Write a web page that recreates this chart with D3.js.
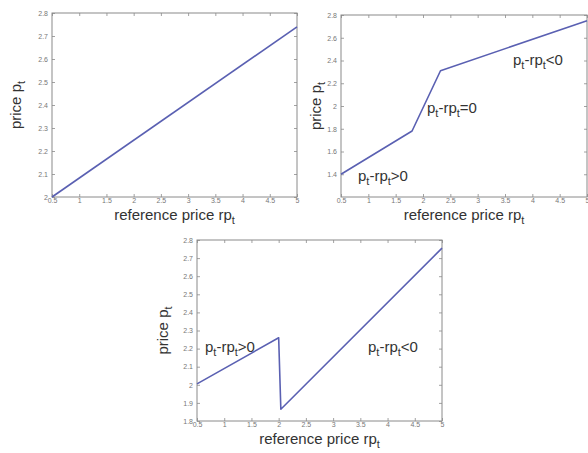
<!DOCTYPE html>
<html>
<head>
<meta charset="utf-8">
<script src="https://cdn.jsdelivr.net/npm/d3@7"></script>
<style>
  html, body { margin: 0; padding: 0; background: #fff; }
  svg { display: block; }
</style>
</head>
<body>
<svg id="chart" width="588" height="453"></svg>
<script>
// Reference price rp_t shared by all three panels
const xTicks = [0.5, 1, 1.5, 2, 2.5, 3, 3.5, 4, 4.5, 5];

// Panel A: linear response
const rpA = [0.5, 5];
const pA = [2.0, 2.74];
const yTicksA = [2, 2.1, 2.2, 2.3, 2.4, 2.5, 2.6, 2.7, 2.8];

// Panel B: piecewise linear response with three regimes
const rpB = [0.5, 1.8, 2.32, 5];
const pB = [1.4, 1.78, 2.31, 2.75];
const yTicksB = [1.4, 1.6, 1.8, 2, 2.2, 2.4, 2.6, 2.8];

// Panel C: response with a downward jump
const rpC = [0.5, 2.0, 2.04, 5];
const pC = [2.005, 2.26, 1.865, 2.755];
const yTicksC = [1.8, 1.9, 2, 2.1, 2.2, 2.3, 2.4, 2.5, 2.6, 2.7, 2.8];

const svg = d3.select("#chart");
const FONT = "'Liberation Sans', Arial, sans-serif";
const LINE = "#5a60b2";
const AXIS = "#8a8a8a";

const panels = [
  { box: [52, 13, 297, 197], yDom: [2.0, 2.8], yTicks: yTicksA, rp: rpA, p: pA,
    yLabelX: 21, xLabelY: 220, notes: [] },
  { box: [341, 15, 587, 197], yDom: [1.2, 2.8], yTicks: yTicksB, rp: rpB, p: pB,
    yLabelX: 321, xLabelY: 220,
    notes: [{ x: 358, y: 181, rel: ">0" }, { x: 427, y: 113, rel: "=0" }, { x: 513, y: 65, rel: "<0" }] },
  { box: [197, 240, 442, 421], yDom: [1.8, 2.8], yTicks: yTicksC, rp: rpC, p: pC,
    yLabelX: 168, xLabelY: 444,
    notes: [{ x: 205, y: 352, rel: ">0" }, { x: 368, y: 352, rel: "<0" }] }
];

// Writes [main, sub] pairs as tspans, lowering each subscript and restoring the baseline after it
function subText(sel, parts) {
  let shift = 0;
  parts.forEach(([main, sub]) => {
    if (main) {
      const m = sel.append("tspan").text(main);
      if (shift) { m.attr("dy", shift); shift = 0; }
    }
    if (sub) {
      sel.append("tspan").attr("font-size", 11).attr("dy", 4 + shift).text(sub);
      shift = -4;
    }
  });
}

panels.forEach(cfg => {
  const [x0, y0, x1, y1] = cfg.box;
  const x = d3.scaleLinear().domain([0.5, 5]).range([x0, x1]);
  const y = d3.scaleLinear().domain(cfg.yDom).range([y1, y0]);
  const g = svg.append("g");

  const fmt = d => String(+d.toFixed(1));

  // Bottom and left axes with inward ticks
  const bottom = g.append("g").attr("transform", `translate(0,${y1})`)
    .call(d3.axisBottom(x).tickValues(xTicks).tickSizeInner(-3).tickSizeOuter(0).tickPadding(1).tickFormat(fmt));
  const left = g.append("g").attr("transform", `translate(${x0},0)`)
    .call(d3.axisLeft(y).tickValues(cfg.yTicks).tickSizeInner(-3).tickSizeOuter(0).tickPadding(4).tickFormat(fmt));
  // Top and right axes: ticks only
  const top = g.append("g").attr("transform", `translate(0,${y0})`)
    .call(d3.axisTop(x).tickValues(xTicks).tickSizeInner(-3).tickSizeOuter(0).tickFormat(""));
  const right = g.append("g").attr("transform", `translate(${x1},0)`)
    .call(d3.axisRight(y).tickValues(cfg.yTicks).tickSizeInner(-3).tickSizeOuter(0).tickFormat(""));

  [bottom, left, top, right].forEach(a => {
    a.select(".domain").remove();
    a.selectAll("line").attr("stroke", AXIS).attr("stroke-width", 0.8);
    a.selectAll("text").attr("fill", "#777").attr("font-family", FONT).attr("font-size", 7);
  });
  // Unlabelled top/right axes carry no text nodes
  top.selectAll("text").remove();
  right.selectAll("text").remove();

  // Box frame
  g.append("rect").attr("x", x0).attr("y", y0).attr("width", x1 - x0).attr("height", y1 - y0)
    .attr("fill", "none").attr("stroke", AXIS).attr("stroke-width", 1);

  // Price curve
  const pts = cfg.rp.map((r, i) => [r, cfg.p[i]]);
  g.append("path").datum(pts)
    .attr("d", d3.line().x(d => x(d[0])).y(d => y(d[1])))
    .attr("fill", "none").attr("stroke", LINE).attr("stroke-width", 1.6)
    .attr("stroke-linejoin", "round");

  // Axis titles
  const xl = g.append("text").attr("x", (x0 + x1) / 2).attr("y", cfg.xLabelY)
    .attr("text-anchor", "middle").attr("font-family", FONT).attr("font-size", 15).attr("fill", "#333");
  subText(xl, [["reference price rp", "t"]]);

  const yl = g.append("text")
    .attr("transform", `translate(${cfg.yLabelX},${(y0 + y1) / 2}) rotate(-90)`)
    .attr("text-anchor", "middle").attr("font-family", FONT).attr("font-size", 15).attr("fill", "#333");
  subText(yl, [["price p", "t"]]);

  // Regime annotations
  cfg.notes.forEach(n => {
    const t = g.append("text").attr("x", n.x).attr("y", n.y)
      .attr("font-family", FONT).attr("font-size", 15).attr("fill", "#333");
    subText(t, [["p", "t"], ["-rp", "t"], [n.rel, null]]);
  });
});
</script>
</body>
</html>
